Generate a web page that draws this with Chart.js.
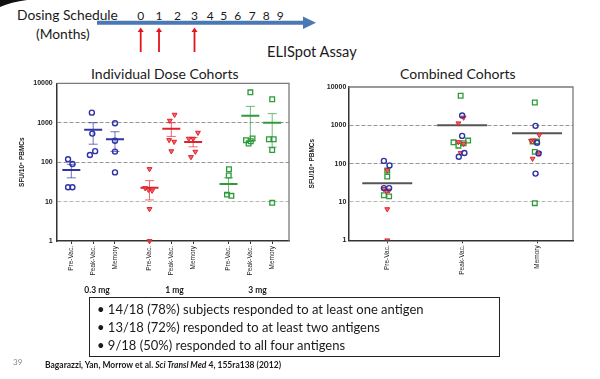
<!DOCTYPE html>
<html><head><meta charset="utf-8">
<script src="https://cdn.jsdelivr.net/npm/chart.js@4.4.0/dist/chart.umd.min.js"></script>
<style>
html,body{margin:0;padding:0;background:#fff;}
#slide{position:relative;width:600px;height:379px;overflow:hidden;font-family:Lato,'Open Sans',sans-serif;color:#1a1a1a;}
.t{position:absolute;white-space:nowrap;line-height:1;}
canvas{position:absolute;}
#box{position:absolute;left:89px;top:297px;width:409px;height:58px;border:1.5px solid #222;}
.bl{position:absolute;left:7px;font-size:13px;line-height:1;white-space:nowrap;}
</style></head><body>
<div id="slide">
<svg id="deco" width="600" height="60" style="position:absolute;left:0;top:0">
 <path d="M0 0 L27 0 Q11 2 0 7 Z" fill="#111"/>
 <line x1="97" y1="22.7" x2="305" y2="22.7" stroke="#4a78b4" stroke-width="4"/>
 <polygon points="303,16.5 316,22.7 303,29" fill="#4a78b4"/>
</svg>
<div class="t" style="left:17px;top:8px;font-size:13.8px">Dosing Schedule</div>
<div class="t" style="left:36px;top:27px;font-size:13.8px">(Months)</div>
<div class="t" style="left:267px;top:45px;font-size:14.6px">ELISpot Assay</div>
<div class="t" style="left:91px;top:67px;font-size:14px">Individual Dose Cohorts</div>
<div class="t" style="left:400px;top:67px;font-size:14px">Combined Cohorts</div>
<canvas id="c1" width="300" height="240" style="left:0;top:60px"></canvas>
<canvas id="c2" width="300" height="240" style="left:300px;top:60px"></canvas>
<div id="box"></div>
<div class="t" style="left:13px;top:358px;font-size:8px;color:#888">39</div>
<div class="t" style="left:45px;top:361px;font-size:8.5px;font-weight:bold">Bagarazzi, Yan, Morrow et al. <i>Sci Transl Med</i> 4, 155ra138 (2012)</div>
</div>
<script>
// ---------- data ----------
const months = ['0','1','2','3','4','5','6','7','8','9'];
const dosingMonths = [0, 1, 3];
const phases = ['Pre-Vac.', 'Peak-Vac.', 'Memory'];
const cohorts = ['0.3 mg', '1 mg', '3 mg'];
const yTicks = [1, 10, 100, 1000, 10000];

// individual responses (SFU/10^6 PBMCs)
const lowPre  = [118, 90, 23, 23];
const lowPeak = [1800, 530, 190, 152];
const lowMem  = [970, 350, 185, 55];
const midPre  = [67, 22, 20, 19, 6.5, 1];
const midPeak = [1600, 1130, 365, 330, 190];
const midMem  = [560, 395, 395, 185, 135];
const highPre  = [66, 46, 15, 14];
const highPeak = [5900, 400, 360, 340, 295];
const highMem  = [3950, 380, 380, 203, 9.3];

// cohort means and error bars (Pre, Peak, Memory)
const lowMean  = [63, 660, 380];
const lowErrLo = [40, 285, 187];
const lowErrHi = [88, 1000, 590];
const midMean  = [22.5, 700, 325];
const midErrLo = [11, 450, 245];
const midErrHi = [34, 1000, 420];
const highMean  = [28, 1500, 1000];
const highErrLo = [16, 350, 240];
const highErrHi = [40, 2600, 1700];

// combined cohort means
const combinedMean = [31, 1000, 620];

const bullets = [
  '14/18 (78%) subjects responded to at least one antigen',
  '13/18 (72%) responded to at least two antigens',
  '9/18 (50%) responded to all four antigens'
];

// ---------- layout constants (not data) ----------
const monthX = [140.7, 159, 177.5, 194.5, 210.3, 223.7, 237.8, 252.2, 266.3, 280.3];
const cohortLabelX = [97, 174.5, 257.5];
const xPosLeft = [1, 2, 3, 4.58, 5.58, 6.58, 8.2, 9.2, 10.2];
const xPosRight = [0, 1, 2];
// horizontal jitter of markers (x-axis units)
const jitLeft = {
  low:  [[-0.15, 0.05, -0.15, 0.05], [-0.06, -0.04, 0.09, -0.15], [0, 0, 0, 0]],
  mid:  [[0, -0.2, -0.05, 0.12, 0, 0], [0.15, -0.07, -0.1, 0.13, 0], [0.22, -0.2, 0, 0.1, -0.1]],
  high: [[0.02, 0.01, -0.07, 0.13], [0, 0.1, -0.2, 0.02, -0.08], [0, -0.15, 0.07, 0, 0]]
};
const jitRight = {
  low:  [[-0.045, 0.03, -0.045, 0.025], [0, 0, 0.03, -0.045], [-0.02, 0, 0.02, -0.02]],
  mid:  [[0, -0.045, 0.025, -0.01, 0, 0], [0.02, -0.05, -0.05, 0.02, -0.02], [0.03, -0.08, -0.04, 0.03, -0.06]],
  high: [[0, 0, -0.045, 0.025], [-0.02, 0.08, -0.115, 0.02, -0.05], [-0.03, -0.06, 0, -0.03, -0.03]]
};

// ---------- slide decoration ----------
const slide = document.getElementById('slide');
const svg = document.getElementById('deco');
months.forEach((m, i) => {
  const d = document.createElement('div');
  d.className = 't';
  d.style.cssText = `left:${monthX[i] - 4}px;top:10px;font-size:12px;width:8px;text-align:center`;
  d.textContent = m;
  slide.appendChild(d);
});
dosingMonths.forEach(m => {
  const x = monthX[m];
  svg.insertAdjacentHTML('beforeend',
    `<line x1="${x}" y1="52" x2="${x}" y2="31" stroke="#e3141b" stroke-width="1.8"/>` +
    `<polygon points="${x-3},32 ${x},27.5 ${x+3},32" fill="#e3141b"/>`);
});
cohorts.forEach((c, i) => {
  const d = document.createElement('div');
  d.className = 't';
  d.style.cssText = `left:${cohortLabelX[i] - 20}px;top:286px;width:40px;text-align:center;font-size:8.5px;font-weight:bold`;
  d.textContent = c;
  slide.appendChild(d);
});
const box = document.getElementById('box');
bullets.forEach((b, i) => {
  const d = document.createElement('div');
  d.className = 'bl';
  d.style.top = (5 + i * 18) + 'px';
  d.textContent = '\u2022 ' + b;
  box.appendChild(d);
});

// ---------- charts ----------
Chart.defaults.font.family = "'Liberation Sans', Arial, sans-serif";
Chart.defaults.color = '#222';

const BLUE = '#2f33a6', RED = '#e0222a', GREEN = '#2e9a3c';
const markerStyle = {
  low:  {pointStyle: 'circle', pointRadius: 2.5, pointBorderWidth: 1.4, pointBackgroundColor: 'rgba(255,255,255,0)', pointBorderColor: BLUE},
  mid:  {pointStyle: 'triangle', pointRotation: 180, pointRadius: 2.8, pointBorderWidth: 1, pointBackgroundColor: 'rgba(236,70,74,0.8)', pointBorderColor: RED},
  high: {pointStyle: 'rect', pointRadius: 3.3, pointBorderWidth: 1.3, pointBackgroundColor: 'rgba(255,255,255,0)', pointBorderColor: GREEN}
};
const groupVals = {low: [lowPre, lowPeak, lowMem], mid: [midPre, midPeak, midMem], high: [highPre, highPeak, highMem]};
const groupStats = {
  low: {mean: lowMean, lo: lowErrLo, hi: lowErrHi, color: BLUE},
  mid: {mean: midMean, lo: midErrLo, hi: midErrHi, color: RED},
  high: {mean: highMean, lo: highErrLo, hi: highErrHi, color: GREEN}
};

function pts(vals, xc, jit) { return vals.map((v, i) => ({x: xc + jit[i], y: v})); }

function yScale(width, pad, titlePad) {
  return {
    type: 'logarithmic', min: 1, max: 10000,
    afterBuildTicks: s => { s.ticks = yTicks.map(v => ({value: v})); },
    afterFit: s => { s.width = width; },
    ticks: {autoSkip: false, callback: v => String(v), font: {size: 7, weight: 'bold'}, color: '#222', padding: pad},
    grid: {drawTicks: false, lineWidth: 1,
      color: c => (c.tick && (c.tick.value === 1 || c.tick.value === 10000)) ? 'rgba(0,0,0,0)' : (c.tick && c.tick.value === 10 ? '#b5b5b5' : '#959595')},
    border: {display: true, color: '#333', width: 1.5, dash: [4, 2]},
    title: {display: true, text: 'SFU/10\u2076 PBMCs', font: {size: 6.5, weight: 'bold'}, color: '#222', padding: {top: titlePad, bottom: 0}}
  };
}
function xScale(pos, min, max, h) {
  return {
    type: 'linear', min, max,
    afterBuildTicks: s => { s.ticks = pos.map(v => ({value: v})); },
    afterFit: s => { s.height = h; },
    ticks: {autoSkip: false, maxRotation: 90, minRotation: 90, font: {size: 6.5}, color: '#222', padding: 2,
      callback: (v, i) => phases[i % 3]},
    grid: {drawOnChartArea: false, drawTicks: true, tickLength: 3, color: '#333', lineWidth: 1},
    border: {display: true, color: '#333', width: 1.5}
  };
}
const framePlugin = {
  id: 'frame',
  beforeDatasetsDraw(chart) {
    const a = chart.chartArea, ctx = chart.ctx;
    ctx.save();
    ctx.strokeStyle = '#7a7a7a'; ctx.lineWidth = 1.3;
    ctx.beginPath();
    ctx.moveTo(a.left, a.top); ctx.lineTo(a.right, a.top); ctx.lineTo(a.right, a.bottom);
    ctx.stroke();
    ctx.restore();
  }
};

// left chart datasets
const leftDs = [];
['low', 'mid', 'high'].forEach((g, gi) => {
  const data = [];
  groupVals[g].forEach((vals, p) => data.push(...pts(vals, xPosLeft[gi * 3 + p], jitLeft[g][p])));
  leftDs.push(Object.assign({data, showLine: false, clip: false}, markerStyle[g]));
});
['low', 'mid', 'high'].forEach((g, gi) => {
  const st = groupStats[g];
  const means = st.mean.map((m, p) => ({x: xPosLeft[gi * 3 + p], y: m}));
  leftDs.push({data: means, showLine: false, pointStyle: 'line', pointRadius: 9, pointBorderWidth: 2, pointBorderColor: st.color, borderColor: st.color});
  const caps = [];
  const stems = [];
  st.mean.forEach((m, p) => {
    const x = xPosLeft[gi * 3 + p];
    caps.push({x, y: st.lo[p]}, {x, y: st.hi[p]});
    stems.push({x, y: st.lo[p]}, {x, y: st.hi[p]}, {x, y: null});
  });
  const light = st.color + 'b0';
  leftDs.push({data: caps, showLine: false, pointStyle: 'line', pointRadius: 4.5, pointBorderWidth: 1, pointBorderColor: light, borderColor: light});
  leftDs.push({data: stems, showLine: true, spanGaps: false, borderWidth: 1, borderColor: light, pointRadius: 0});
});

new Chart(document.getElementById('c1'), {
  type: 'scatter',
  data: {datasets: leftDs},
  options: {
    responsive: false, animation: false, devicePixelRatio: 1, events: [],
    layout: {padding: {top: 23.3, right: 4, left: 0, bottom: 0}},
    plugins: {legend: {display: false}, tooltip: {enabled: false}},
    scales: {x: xScale(xPosLeft, 0.33, 10.97, 59), y: yScale(56.7, 4, 18)}
  },
  plugins: [framePlugin]
});

// right chart datasets
const rightDs = [];
['low', 'mid', 'high'].forEach(g => {
  const data = [];
  groupVals[g].forEach((vals, p) => data.push(...pts(vals, xPosRight[p], jitRight[g][p])));
  rightDs.push(Object.assign({data, showLine: false}, markerStyle[g]));
});
rightDs.push({data: combinedMean.map((m, p) => ({x: xPosRight[p], y: m})), showLine: false,
  pointStyle: 'line', pointRadius: 25, pointBorderWidth: 2, pointBorderColor: '#555', borderColor: '#555'});

new Chart(document.getElementById('c2'), {
  type: 'scatter',
  data: {datasets: rightDs},
  options: {
    responsive: false, animation: false, devicePixelRatio: 1, events: [],
    layout: {padding: {top: 23.3, right: 26.7, left: 0, bottom: 0}},
    plugins: {legend: {display: false}, tooltip: {enabled: false}},
    scales: {x: xScale(xPosRight, -0.52, 2.48, 59.7), y: yScale(48.3, 2, 8)}
  },
  plugins: [framePlugin]
});
</script>
</body></html>
